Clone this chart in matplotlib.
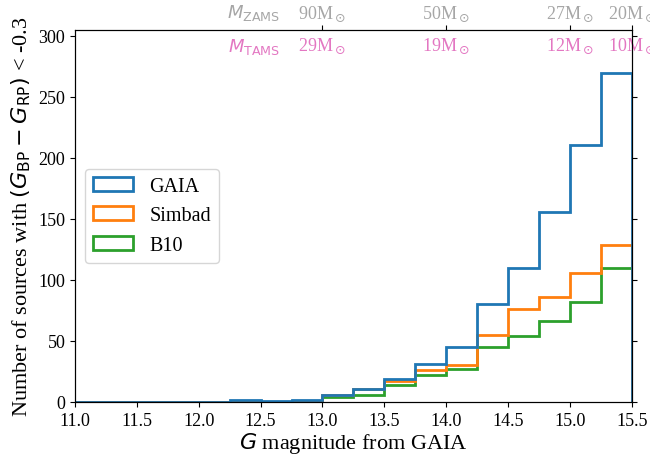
import numpy as np
import matplotlib
matplotlib.use("Agg")
import matplotlib.pyplot as plt

plt.rcParams["font.family"] = "serif"
plt.rcParams["font.serif"] = ["Liberation Serif", "DejaVu Serif"]
plt.rcParams["mathtext.fontset"] = "dejavusans"

# bins of 0.25 mag in G
bin_edges = np.arange(11.0, 15.5001, 0.25)
gaia = [0, 0, 0, 0, 0, 2, 1, 2, 6, 11, 19, 31, 45, 80, 110, 156, 211, 270]
simbad = [0, 0, 0, 0, 0, 0, 0, 0, 6, 11, 17, 26, 30, 55, 76, 86, 106, 129]
b10 = [0, 0, 0, 0, 0, 0, 0, 0, 4, 6, 14, 22, 27, 45, 54, 66, 82, 110]
labels = ["GAIA", "Simbad", "B10"]

# masses at the top axis
mass_ticks = [13.0, 14.0, 15.0, 15.5]
m_zams = ["90", "50", "27", "20"]
m_tams = ["29", "19", "12", "10"]

centers = 0.5 * (bin_edges[:-1] + bin_edges[1:])

fig, ax = plt.subplots(figsize=(6.5, 4.6), dpi=100)
fig.subplots_adjust(left=0.1154, right=0.972, bottom=0.124, top=0.933)

ax.hist([centers, centers, centers], bins=bin_edges,
        weights=[gaia, simbad, b10], histtype="step", linewidth=2,
        label=labels)

ax.set_xlim(11.0, 15.5)
ax.set_ylim(0, 305)
ax.set_xticks(np.arange(11.0, 15.51, 0.5))
ax.tick_params(direction="out", labelsize=13, right=True)
ax.set_xlabel(r"$G$ magnitude from GAIA", fontsize=16, labelpad=1)
ax.set_ylabel(r"Number of sources with $(G_{\rm BP} - G_{\rm RP})$ < -0.3",
              fontsize=16)
handles, names = ax.get_legend_handles_labels()
order = [names.index(n) for n in labels]
ax.legend([handles[i] for i in order], [names[i] for i in order],
          loc="center left", fontsize=14.5)

zams_col = "#a6a6a6"
tams_col = "#e377c2"

top = ax.twiny()
top.set_xlim(ax.get_xlim())
top.set_xticks(mass_ticks)
top.set_xticklabels([m + r"M$_\odot$" for m in m_zams], color=zams_col,
                    fontsize=13)
top.tick_params(direction="out", pad=1.5)

ax.text(12.66, 1.048, r"$M_{\rm ZAMS}$", color=zams_col, fontsize=13,
        ha="right", va="center", transform=ax.get_xaxis_transform())
ax.text(12.66, 0.957, r"$M_{\rm TAMS}$", color=tams_col, fontsize=13,
        ha="right", va="center", transform=ax.get_xaxis_transform())
for x, m in zip(mass_ticks, m_tams):
    ax.text(x, 0.957, m + r"M$_\odot$", color=tams_col, fontsize=13,
            ha="center", va="center", transform=ax.get_xaxis_transform())

fig.savefig("out.png", dpi=100)
